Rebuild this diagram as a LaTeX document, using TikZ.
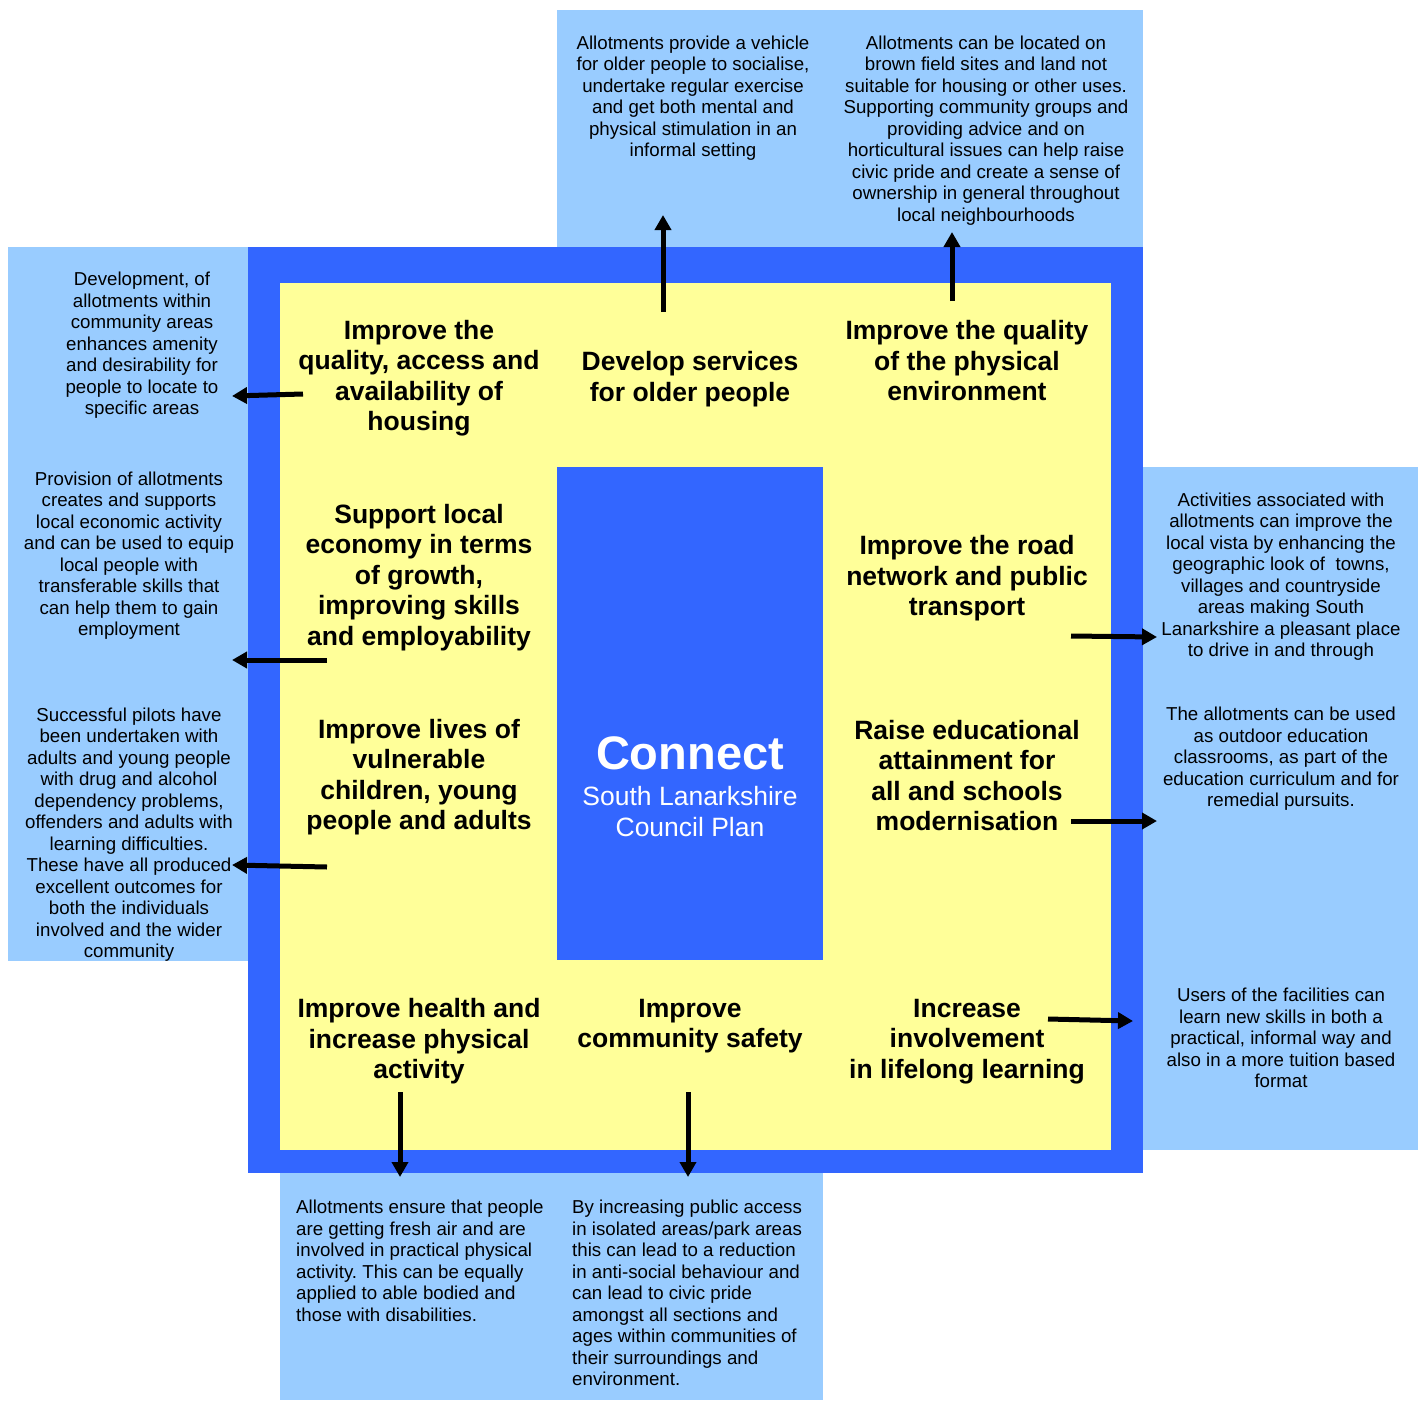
\documentclass[tikz,border=0pt]{standalone}
\usepackage{fontspec}
\setmainfont{Liberation Sans}
\usetikzlibrary{arrows.meta}
\definecolor{frameblue}{HTML}{3366FF}
\definecolor{paleblue}{HTML}{99CCFF}
\definecolor{paleyellow}{HTML}{FFFF99}
\frenchspacing
\begin{document}
\begin{tikzpicture}[x=1pt,y=-1pt,
  note/.style={font=\fontsize{18.7}{21.5}\selectfont, align=center, inner sep=0pt},
  notel/.style={font=\fontsize{18.7}{21.5}\selectfont, align=left, inner sep=0pt, anchor=north west},
  goal/.style={font=\fontsize{26.5}{30.5}\selectfont\bfseries, align=center, inner sep=0pt},
  link/.style={line width=5pt, -{Triangle[length=15pt,width=16pt]}},
]
\useasboundingbox (0,0) rectangle (1421,1402);
\fill[white] (0,0) rectangle (1421,1402);
% light blue panels
\fill[paleblue] (557,10) rectangle (1143,247);
\fill[paleblue] (8,247) rectangle (248,961);
\fill[paleblue] (1143,467) rectangle (1418,1150);
\fill[paleblue] (280,1173) rectangle (823,1400);
% frame
\fill[frameblue] (248,247) rectangle (1143,1173);
\fill[paleyellow] (280,283) rectangle (1111,1150);
\fill[frameblue] (557,467) rectangle (823,960);

% goals
\node[goal] (g1) at (419,378) {Improve the\\quality, access and\\availability of\\housing};
\node[goal] (g2) at (690,379) {Develop services\\for older people};
\node[goal] (g3) at (967,361) {Improve the quality\\of the physical\\environment};
\node[goal] (g4) at (419,577.5) {Support local\\economy in terms\\of growth,\\improving skills\\and employability};
\node[goal] (g5) at (967,578.5) {Improve the road\\network and public\\transport};
\node[goal] (g6) at (419,777) {Improve lives of\\vulnerable\\children, young\\people and adults};
\node[goal] (g7) at (967,775.5) {Raise educational\\attainment for\\all and schools\\modernisation};
\node[goal] (g8) at (419,1041.5) {Improve health and\\increase physical\\activity};
\node[goal] (g9) at (690,1026) {Improve\\community safety};
\node[goal] (g10) at (967,1041.5) {Increase\\involvement\\in lifelong learning};

% hub
\node[font=\fontsize{47}{50}\selectfont\bfseries, text=white, inner sep=0pt] (hub) at (690,753) {Connect};
\node[font=\fontsize{26.5}{31}\selectfont, text=white, align=center, inner sep=0pt] (hubsub) at (690,811.5) {South Lanarkshire\\Council Plan};

% notes
\node[note] (t1) at (693,98) {Allotments provide a vehicle\\for older people to socialise,\\undertake regular exercise\\and get both mental and\\physical stimulation in an\\informal setting};
\node[note] (t2) at (986,130.5) {Allotments can be located on\\brown field sites and land not\\suitable for housing or other uses.\\Supporting community groups and\\providing advice and on\\horticultural issues can help raise\\civic pride and create a sense of\\ownership in general throughout\\local neighbourhoods};
\node[note] (l1) at (142,345.5) {Development, of\\allotments within\\community areas\\enhances amenity\\and desirability for\\people to locate to\\specific areas};
\node[note] (l2) at (129,555.5) {Provision of allotments\\creates and supports\\local economic activity\\and can be used to equip\\local people with\\transferable skills that\\can help them to gain\\employment};
\node[note] (l3) at (129,834.5) {Successful pilots have\\been undertaken with\\adults and young people\\with drug and alcohol\\dependency problems,\\offenders and adults with\\learning difficulties.\\These have all produced\\excellent outcomes for\\both the individuals\\involved and the wider\\community};
\node[note] (r1) at (1281,576.5) {Activities associated with\\allotments can improve the\\local vista by enhancing the\\geographic look of \ towns,\\villages and countryside\\areas making South\\Lanarkshire a pleasant place\\to drive in and through};
\node[note] (r2) at (1281,759) {The allotments can be used\\as outdoor education\\classrooms, as part of the\\education curriculum and for\\remedial pursuits.};
\node[note] (r3) at (1281,1038) {Users of the facilities can\\learn new skills in both a\\practical, informal way and\\also in a more tuition based\\format};
\node[notel] (b1) at (296,1200) {Allotments ensure that people\\are getting fresh air and are\\involved in practical physical\\activity. This can be equally\\applied to able bodied and\\those with disabilities.};
\node[notel] (b2) at (572,1200) {By increasing public access\\in isolated areas/park areas\\this can lead to a reduction\\in anti-social behaviour and\\can lead to civic pride\\amongst all sections and\\ages within communities of\\their surroundings and\\environment.};

% arrow ends
\coordinate (a1s) at (663,312);  \coordinate (a1e) at (663,215);
\coordinate (a2s) at (952,301);  \coordinate (a2e) at (952,232);
\coordinate (a3s) at (303,394);  \coordinate (a3e) at (232,396);
\coordinate (a4s) at (327,660);  \coordinate (a4e) at (232,660);
\coordinate (a5s) at (327,867);  \coordinate (a5e) at (232,865);
\coordinate (a6s) at (1071,636); \coordinate (a6e) at (1157,637);
\coordinate (a7s) at (1071,821); \coordinate (a7e) at (1157,821);
\coordinate (a8s) at (1048,1019);\coordinate (a8e) at (1133,1021);
\coordinate (a9s) at (400,1092); \coordinate (a9e) at (400,1177);
\coordinate (a10s) at (688,1092);\coordinate (a10e) at (688,1177);
\foreach \i in {1,...,10} {\draw[link] (a\i s) -- (a\i e);}
\end{tikzpicture}
\end{document}
